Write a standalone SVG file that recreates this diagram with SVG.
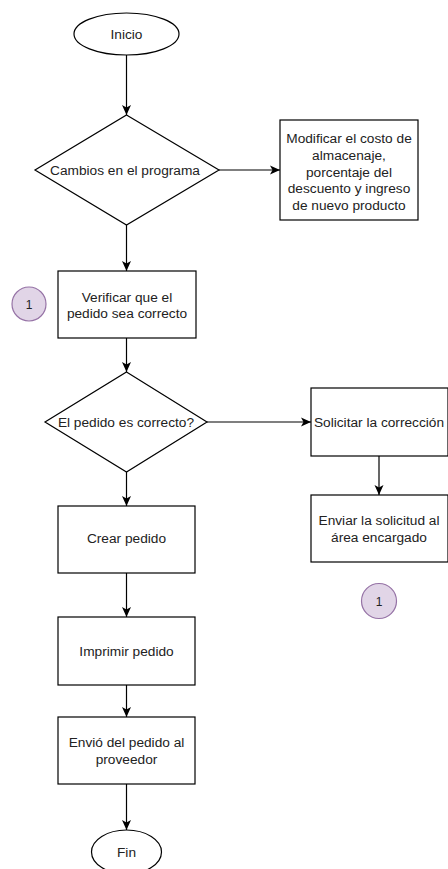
<svg xmlns="http://www.w3.org/2000/svg" width="448" height="869" viewBox="0 0 448 869">
<style>
.s{fill:#fff;stroke:#000;stroke-width:1.2}
.c{fill:#e1d5e7;stroke:#9673a6;stroke-width:1.2}
.t{font-family:"Liberation Sans",Arial,sans-serif;font-size:13.7px;fill:#222;text-anchor:middle}
.e{fill:none;stroke:#000;stroke-width:1.2}
</style>
<defs>
<marker id="a" markerUnits="userSpaceOnUse" markerWidth="10" markerHeight="10" refX="10" refY="5" orient="auto">
<path d="M0,0.5 L10,5 L0,9.5 L2.5,5 Z" fill="#000"/>
</marker>
</defs>
<rect width="448" height="869" fill="#fff"/>
<g id="connectors">
<line class="e" x1="126.5" y1="55" x2="126.5" y2="115" marker-end="url(#a)"/>
<line class="e" x1="219" y1="170" x2="280" y2="170" marker-end="url(#a)"/>
<line class="e" x1="126.5" y1="225" x2="126.5" y2="271" marker-end="url(#a)"/>
<line class="e" x1="126.5" y1="338" x2="126.5" y2="372" marker-end="url(#a)"/>
<line class="e" x1="207" y1="422" x2="311" y2="422" marker-end="url(#a)"/>
<line class="e" x1="379" y1="456" x2="379" y2="495" marker-end="url(#a)"/>
<line class="e" x1="126.5" y1="472" x2="126.5" y2="506" marker-end="url(#a)"/>
<line class="e" x1="126.5" y1="573" x2="126.5" y2="617" marker-end="url(#a)"/>
<line class="e" x1="126.5" y1="685" x2="126.5" y2="717" marker-end="url(#a)"/>
<line class="e" x1="126.5" y1="784" x2="126.5" y2="830" marker-end="url(#a)"/>
</g>
<g id="inicio">
<ellipse class="s" cx="126.5" cy="34" rx="52.5" ry="21"/>
<text class="t" x="126.5" y="39">Inicio</text>
</g>
<g id="cambios">
<polygon class="s" points="126.5,115 219,170 126.5,225 35,170"/>
<text class="t" x="125" y="175">Cambios en el programa</text>
</g>
<g id="modificar">
<rect class="s" x="280" y="120" width="138" height="100"/>
<text class="t" x="349" y="143">Modificar el costo de</text>
<text class="t" x="349" y="160">almacenaje,</text>
<text class="t" x="349" y="177">porcentaje del</text>
<text class="t" x="349" y="193">descuento y ingreso</text>
<text class="t" x="349" y="210">de nuevo producto</text>
</g>
<g id="verificar">
<rect class="s" x="58" y="271" width="138" height="67"/>
<text class="t" x="127" y="301.5">Verificar que el</text>
<text class="t" x="127" y="318">pedido sea correcto</text>
</g>
<g id="conector1a">
<circle class="c" cx="29" cy="304" r="17"/>
<text class="t" x="29" y="309" style="font-size:12px">1</text>
</g>
<g id="correcto">
<polygon class="s" points="126.5,372 207,422 126.5,472 45,422"/>
<text class="t" x="126" y="427">El pedido es correcto?</text>
</g>
<g id="solicitar">
<rect class="s" x="311" y="388" width="137" height="68"/>
<text class="t" x="379" y="427">Solicitar la corrección</text>
</g>
<g id="enviar">
<rect class="s" x="311" y="495" width="137" height="67"/>
<text class="t" x="379" y="525">Enviar la solicitud al</text>
<text class="t" x="379" y="541.5">área encargado</text>
</g>
<g id="conector1b">
<circle class="c" cx="379" cy="601" r="17.5"/>
<text class="t" x="379" y="606" style="font-size:12px">1</text>
</g>
<g id="crear">
<rect class="s" x="58" y="506" width="137" height="67"/>
<text class="t" x="126.5" y="543">Crear pedido</text>
</g>
<g id="imprimir">
<rect class="s" x="58" y="617" width="137" height="68"/>
<text class="t" x="126.5" y="655.5">Imprimir pedido</text>
</g>
<g id="envio">
<rect class="s" x="58" y="717" width="137" height="67"/>
<text class="t" x="126.5" y="747">Envió del pedido al</text>
<text class="t" x="126.5" y="764">proveedor</text>
</g>
<g id="fin">
<ellipse class="s" cx="126.5" cy="852" rx="35" ry="22"/>
<text class="t" x="126.5" y="857">Fin</text>
</g>
</svg>
